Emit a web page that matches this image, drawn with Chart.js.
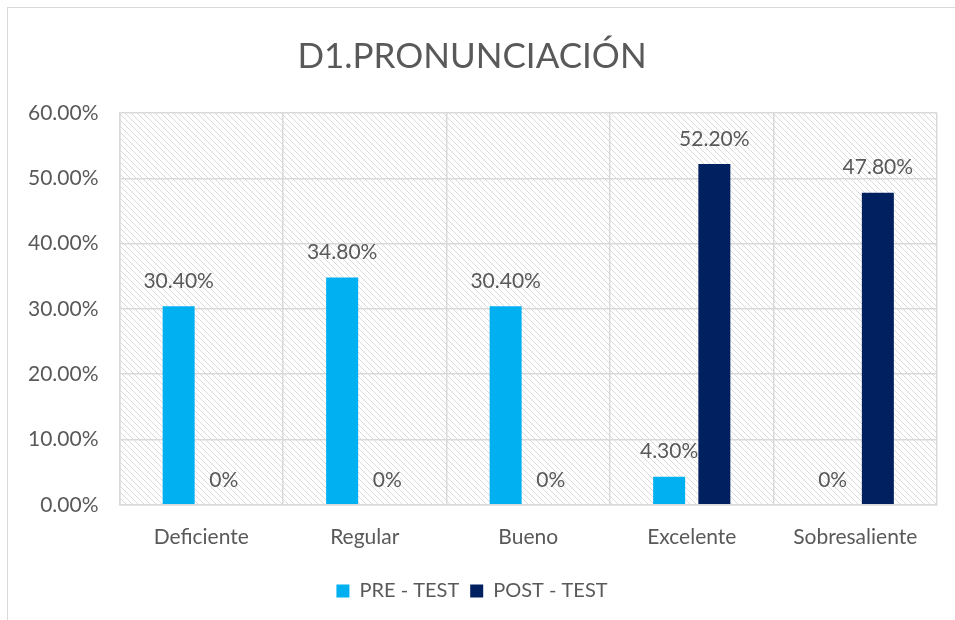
<!DOCTYPE html>
<html>
<head>
<meta charset="utf-8">
<script src="https://cdn.jsdelivr.net/npm/chart.js@4"></script>
<style>
  html, body { margin: 0; padding: 0; background: #fff; overflow: hidden; }
  #wrap { position: absolute; left: 0; top: 0; width: 955px; height: 620px; }
  #frame { position: absolute; left: 7px; top: 7px; width: 1000px; height: 700px; border: 1px solid #d9d9d9; }
</style>
</head>
<body>
<div id="frame"></div>
<div id="wrap"><canvas id="chart" width="955" height="620"></canvas></div>
<script>
const categories = ['Deficiente', 'Regular', 'Bueno', 'Excelente', 'Sobresaliente'];
const preTest = [30.4, 34.8, 30.4, 4.3, 0];
const postTest = [0, 0, 0, 52.2, 47.8];
const yTicks = [0, 10, 20, 30, 40, 50, 60];

const textColor = '#595959';
const fontFamily = 'Lato, "Open Sans", sans-serif';

function makeHatch() {
  const c = document.createElement('canvas');
  c.width = 6; c.height = 6;
  const g = c.getContext('2d');
  g.strokeStyle = '#dadada';
  g.lineWidth = 1;
  g.beginPath();
  g.moveTo(-1, -1); g.lineTo(7, 7);
  g.moveTo(-1, 5); g.lineTo(1, 7);
  g.moveTo(5, -1); g.lineTo(7, 1);
  g.stroke();
  return c;
}

const hatchBg = {
  id: 'hatchBg',
  beforeDraw(chart) {
    const { ctx, chartArea: a } = chart;
    ctx.save();
    ctx.fillStyle = ctx.createPattern(makeHatch(), 'repeat');
    ctx.fillRect(a.left, a.top, a.right - a.left, a.bottom - a.top);
    ctx.restore();
  }
};

const valueLabels = {
  id: 'valueLabels',
  afterDatasetsDraw(chart) {
    const ctx = chart.ctx;
    ctx.save();
    ctx.fillStyle = textColor;
    ctx.font = '21px ' + fontFamily;
    ctx.textAlign = 'center';
    ctx.textBaseline = 'middle';
    chart.data.datasets.forEach((ds, i) => {
      chart.getDatasetMeta(i).data.forEach((bar, j) => {
        const v = ds.data[j];
        const txt = v === 0 ? '0%' : v.toFixed(2) + '%';
        ctx.fillText(txt, bar.x, bar.y - 25);
      });
    });
    ctx.restore();
  }
};

new Chart(document.getElementById('chart').getContext('2d'), {
  type: 'bar',
  data: {
    labels: categories,
    datasets: [
      { label: 'PRE - TEST', data: preTest, backgroundColor: '#00b0f0' },
      { label: 'POST - TEST', data: postTest, backgroundColor: '#002060' }
    ]
  },
  options: {
    responsive: false,
    animation: false,
    categoryPercentage: 0.553,
    barPercentage: 0.708,
    layout: { padding: { left: 7, right: 18, top: 0, bottom: 9 } },
    plugins: {
      title: {
        display: true,
        text: 'D1.PRONUNCIACIÓN',
        color: textColor,
        font: { family: fontFamily, size: 35, weight: 'normal' },
        padding: { top: 36, bottom: 35 }
      },
      legend: {
        position: 'bottom',
        labels: {
          color: textColor,
          font: { family: fontFamily, size: 20 },
          boxWidth: 13,
          boxHeight: 13,
          padding: 11
        }
      },
      tooltip: { enabled: false }
    },
    scales: {
      x: {
        grid: { color: '#d9d9d9', lineWidth: 1.5, drawTicks: false },
        border: { color: '#d9d9d9', width: 1.5 },
        ticks: { color: textColor, font: { family: fontFamily, size: 21 }, padding: 20 }
      },
      y: {
        min: yTicks[0],
        max: yTicks[yTicks.length - 1],
        grid: { color: '#d9d9d9', lineWidth: 1.5, drawTicks: false },
        border: { color: '#d9d9d9', width: 1.5 },
        ticks: {
          stepSize: yTicks[1] - yTicks[0],
          color: textColor,
          font: { family: fontFamily, size: 21 },
          padding: 21,
          callback: v => Number(v).toFixed(2) + '%'
        }
      }
    }
  },
  plugins: [hatchBg, valueLabels]
});
</script>
</body>
</html>
